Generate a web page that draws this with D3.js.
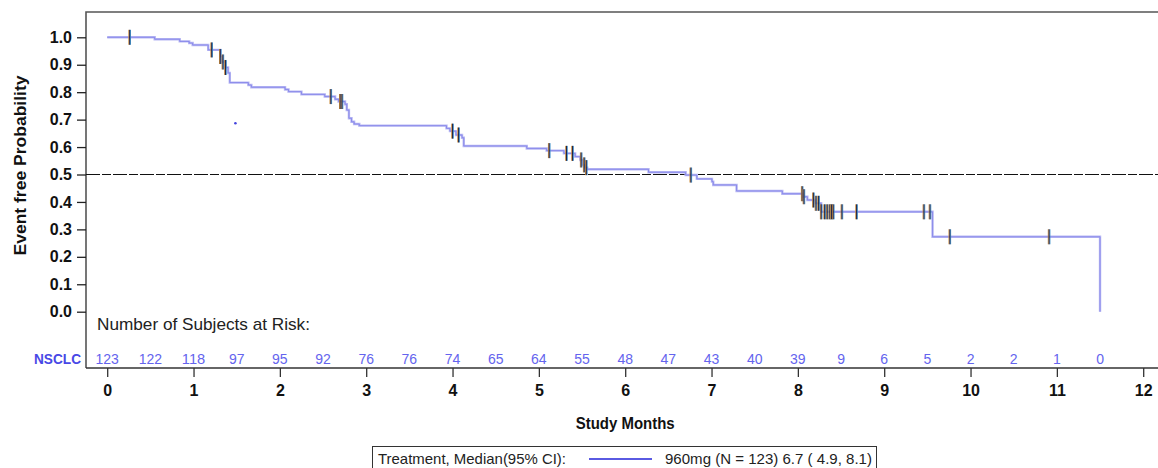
<!DOCTYPE html>
<html>
<head>
<meta charset="utf-8">
<script src="https://cdn.jsdelivr.net/npm/d3@7"></script>
<style>
  body { margin: 0; background: #fff; }
  svg { font-family: "Liberation Sans", Arial, sans-serif; }
</style>
</head>
<body>
<div id="chart"></div>
<script>
// KM step curve (months, event-free probability)
const stepTimes = [0, 0.55, 0.84, 0.95, 0.99, 1.17, 1.31, 1.33, 1.37, 1.40, 1.42, 1.635, 1.67,
  2.06, 2.10, 2.25, 2.52, 2.64, 2.68, 2.755, 2.775, 2.80, 2.83, 2.86, 2.92,
  3.93, 3.97, 4.04, 4.11, 4.13, 4.86, 5.09, 5.29, 5.42, 5.48, 5.51, 5.53, 5.56,
  6.27, 6.70, 6.83, 7.005, 7.02, 7.29, 7.82, 8.06, 8.11, 8.20, 8.27, 9.56, 11.50];
const stepSurv = [1.0, 0.993, 0.985, 0.979, 0.972, 0.954, 0.93, 0.91, 0.89, 0.87, 0.835, 0.826, 0.818,
  0.810, 0.802, 0.792, 0.784, 0.774, 0.766, 0.756, 0.735, 0.705, 0.692, 0.684, 0.678,
  0.668, 0.658, 0.644, 0.634, 0.604, 0.595, 0.587, 0.577, 0.565, 0.553, 0.535, 0.525, 0.519,
  0.508, 0.498, 0.484, 0.474, 0.462, 0.44, 0.430, 0.419, 0.407, 0.395, 0.364, 0.273, 0.0];

// censored observations (months)
const censorTimes = [0.26, 1.21, 1.31, 1.34, 1.37, 2.59, 2.70, 2.72, 4.00, 4.07,
  5.12, 5.32, 5.39, 5.49, 5.525, 5.55, 6.76,
  8.05, 8.07, 8.18, 8.21, 8.24, 8.27, 8.31, 8.34, 8.37, 8.39, 8.41, 8.51, 8.68,
  9.46, 9.53, 9.76, 10.91];

// stray point
const strayPoint = [1.485, 0.687];

// number at risk
const riskTimes = d3.range(0, 12, 0.5);
const riskCounts = [123, 122, 118, 97, 95, 92, 76, 76, 74, 65, 64, 55, 48, 47, 43, 40, 39, 9, 6, 5, 2, 2, 1, 0];

const xTicks = d3.range(0, 13);
const yTicks = d3.range(0, 11).map(d => d / 10);

const width = 1158, height = 468;
const frameLeft = 86, frameTop = 12, axisY = 368;

const x = d3.scaleLinear().domain([0, 12]).range([107.2, 1143.2]);
const y = d3.scaleLinear().domain([0, 1]).range([311.7, 37.3]);

const svg = d3.select("#chart").append("svg")
  .attr("width", width).attr("height", height);

// frame (top + left)
svg.append("path")
  .attr("d", `M${width},${frameTop}H${frameLeft}V${axisY}`)
  .attr("fill", "none").attr("stroke", "#555").attr("stroke-width", 1.6);

// y axis
const yAxis = svg.append("g")
  .attr("transform", `translate(${frameLeft},0)`)
  .call(d3.axisLeft(y).tickValues(yTicks).tickSize(9).tickPadding(5).tickFormat(d3.format(".1f")));
yAxis.select(".domain").remove();
yAxis.selectAll("line").attr("stroke", "#222").attr("stroke-width", 1.3);
yAxis.selectAll("text").attr("font-size", 16).attr("font-weight", "bold").attr("fill", "#111")
  .attr("font-family", "Liberation Sans, Arial, sans-serif");

// x axis
const xAxis = svg.append("g")
  .attr("transform", `translate(0,${axisY})`)
  .call(d3.axisBottom(x).tickValues(xTicks).tickSize(9).tickPadding(8).tickFormat(d3.format("d")));
xAxis.select(".domain").attr("d", `M${frameLeft},0H${width}`).attr("stroke", "#333").attr("stroke-width", 1.6);
xAxis.selectAll("line").attr("stroke", "#333").attr("stroke-width", 1.3);
xAxis.selectAll("text").attr("font-size", 16).attr("font-weight", "bold").attr("fill", "#111")
  .attr("font-family", "Liberation Sans, Arial, sans-serif");

// axis titles
svg.append("text")
  .attr("transform", `translate(26,${y(0.5) - 9}) rotate(-90)`)
  .attr("text-anchor", "middle")
  .attr("font-size", 17).attr("font-weight", "bold").attr("fill", "#111")
  .attr("textLength", 180).attr("lengthAdjust", "spacingAndGlyphs")
  .text("Event free Probability");

svg.append("text")
  .attr("x", x(6)).attr("y", 429)
  .attr("text-anchor", "middle")
  .attr("font-size", 16).attr("font-weight", "bold").attr("fill", "#111")
  .attr("textLength", 99).attr("lengthAdjust", "spacingAndGlyphs")
  .text("Study Months");

// median reference line
svg.append("line")
  .attr("x1", frameLeft).attr("x2", width)
  .attr("y1", y(0.5)).attr("y2", y(0.5))
  .attr("stroke", "#111").attr("stroke-width", 1.2)
  .attr("stroke-dasharray", "14,2,9,2");

// KM curve
const steps = stepTimes.map((t, i) => [t, stepSurv[i]]);
const line = d3.line()
  .x(d => x(d[0])).y(d => y(d[1]))
  .curve(d3.curveStepAfter);

svg.append("path").datum(steps)
  .attr("d", line)
  .attr("fill", "none").attr("stroke", "#b8b8f3").attr("stroke-width", 2.4);
svg.append("path").datum(steps)
  .attr("d", line)
  .attr("fill", "none").attr("stroke", "#8080e8").attr("stroke-width", 0.8);

// censor marks, placed on the curve
const survAt = t => {
  const i = d3.bisectRight(stepTimes, t) - 1;
  return stepSurv[Math.max(0, i)];
};
const marks = svg.append("g");
censorTimes.forEach(t => {
  const cx = x(t), cy = y(survAt(t));
  [[-0.8, "#c98a3a"], [0.8, "#3a8fc9"], [0, "#222244"]].forEach(([dx, c]) => {
    marks.append("line")
      .attr("x1", cx + dx).attr("x2", cx + dx)
      .attr("y1", cy - 7.5).attr("y2", cy + 7.5)
      .attr("stroke", c).attr("stroke-width", 1);
  });
});

svg.append("circle")
  .attr("cx", x(strayPoint[0])).attr("cy", y(strayPoint[1]))
  .attr("r", 1.3).attr("fill", "#4444dd");

// number at risk
svg.append("text")
  .attr("x", 97).attr("y", 330)
  .attr("font-size", 17).attr("fill", "#222")
  .attr("textLength", 213).attr("lengthAdjust", "spacingAndGlyphs")
  .text("Number of Subjects at Risk:");

svg.append("text")
  .attr("x", 34).attr("y", 364)
  .attr("font-size", 15).attr("font-weight", "bold").attr("fill", "#4848e6")
  .attr("textLength", 47).attr("lengthAdjust", "spacingAndGlyphs")
  .text("NSCLC");

svg.append("g").selectAll("text")
  .data(riskCounts)
  .enter().append("text")
  .attr("x", (d, i) => x(riskTimes[i]))
  .attr("y", 364)
  .attr("text-anchor", "middle")
  .attr("font-size", 15.5).attr("fill", "#6464ee")
  .attr("textLength", d => String(d).length * 7.8).attr("lengthAdjust", "spacingAndGlyphs")
  .text(d => d);

// legend
const legend = svg.append("g");
legend.append("rect")
  .attr("x", 372.5).attr("y", 446.5).attr("width", 504).attr("height", 30)
  .attr("fill", "#fff").attr("stroke", "#333").attr("stroke-width", 1);
legend.append("text")
  .attr("x", 378).attr("y", 464)
  .attr("font-size", 15).attr("fill", "#222")
  .attr("textLength", 188).attr("lengthAdjust", "spacingAndGlyphs")
  .text("Treatment, Median(95% CI):");
legend.append("line")
  .attr("x1", 589).attr("x2", 652).attr("y1", 459).attr("y2", 459)
  .attr("stroke", "#2323d8").attr("stroke-width", 1.6);
legend.append("text")
  .attr("x", 665).attr("y", 464)
  .attr("font-size", 15).attr("fill", "#222")
  .attr("textLength", 207).attr("lengthAdjust", "spacingAndGlyphs")
  .text("960mg (N = 123) 6.7 ( 4.9, 8.1)");
</script>
</body>
</html>
